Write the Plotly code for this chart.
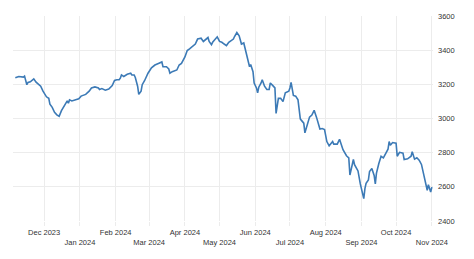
import plotly.graph_objects as go

dates = [
    "2023-11-06", "2023-11-09", "2023-11-13", "2023-11-14", "2023-11-16", "2023-11-17", "2023-11-19",
    "2023-11-21", "2023-11-22", "2023-11-24", "2023-11-28", "2023-11-30", "2023-12-03", "2023-12-05",
    "2023-12-06", "2023-12-08", "2023-12-10", "2023-12-12", "2023-12-14", "2023-12-16", "2023-12-19",
    "2023-12-21", "2023-12-22", "2023-12-23", "2023-12-25", "2023-12-28", "2023-12-31", "2024-01-02",
    "2024-01-06", "2024-01-09", "2024-01-11", "2024-01-14", "2024-01-17", "2024-01-18", "2024-01-20",
    "2024-01-23", "2024-01-26", "2024-01-29", "2024-01-31", "2024-02-02", "2024-02-04", "2024-02-05",
    "2024-02-06", "2024-02-08", "2024-02-11", "2024-02-14", "2024-02-15", "2024-02-17", "2024-02-18",
    "2024-02-20", "2024-02-21", "2024-02-23", "2024-02-24", "2024-02-26", "2024-02-29", "2024-03-03",
    "2024-03-06", "2024-03-09", "2024-03-12", "2024-03-13", "2024-03-16", "2024-03-18", "2024-03-19",
    "2024-03-21", "2024-03-23", "2024-03-25", "2024-03-27", "2024-03-29", "2024-04-01", "2024-04-03",
    "2024-04-05", "2024-04-08", "2024-04-10", "2024-04-12", "2024-04-15", "2024-04-17", "2024-04-19",
    "2024-04-21", "2024-04-22", "2024-04-24", "2024-04-25", "2024-04-27", "2024-04-29", "2024-05-01",
    "2024-05-03", "2024-05-05", "2024-05-07", "2024-05-09", "2024-05-11", "2024-05-13", "2024-05-14",
    "2024-05-16", "2024-05-18", "2024-05-20", "2024-05-22", "2024-05-23", "2024-05-25", "2024-05-27",
    "2024-05-28", "2024-05-30", "2024-05-31", "2024-06-02", "2024-06-03", "2024-06-04", "2024-06-06",
    "2024-06-07", "2024-06-09", "2024-06-11", "2024-06-13", "2024-06-14", "2024-06-16", "2024-06-18",
    "2024-06-19", "2024-06-21", "2024-06-23", "2024-06-25", "2024-06-27", "2024-06-30", "2024-07-01",
    "2024-07-02", "2024-07-04", "2024-07-06", "2024-07-08", "2024-07-10", "2024-07-11", "2024-07-13",
    "2024-07-14", "2024-07-17", "2024-07-18", "2024-07-20", "2024-07-22", "2024-07-24", "2024-07-27",
    "2024-07-29", "2024-07-31", "2024-08-02", "2024-08-04", "2024-08-07", "2024-08-08", "2024-08-11",
    "2024-08-13", "2024-08-16", "2024-08-19", "2024-08-21", "2024-08-22", "2024-08-25", "2024-08-26",
    "2024-08-28", "2024-08-29", "2024-08-31", "2024-09-02", "2024-09-03", "2024-09-04", "2024-09-05",
    "2024-09-07", "2024-09-08", "2024-09-10", "2024-09-12", "2024-09-13", "2024-09-14", "2024-09-16",
    "2024-09-18", "2024-09-20", "2024-09-22", "2024-09-24", "2024-09-25", "2024-09-26", "2024-09-28",
    "2024-09-30", "2024-10-01", "2024-10-02", "2024-10-04", "2024-10-07", "2024-10-08", "2024-10-11",
    "2024-10-14", "2024-10-15", "2024-10-17", "2024-10-19", "2024-10-21", "2024-10-23", "2024-10-25",
    "2024-10-27", "2024-10-28", "2024-10-29", "2024-10-31", "2024-11-01",
]

values = [
    3238, 3246, 3242, 3248, 3198, 3211, 3215,
    3227, 3232, 3213, 3189, 3160, 3127, 3118,
    3084, 3065, 3036, 3021, 3013, 3046, 3084,
    3103, 3090, 3109, 3103, 3109, 3116, 3131,
    3141, 3160, 3179, 3185, 3179, 3170, 3175,
    3166, 3173, 3193, 3223, 3227, 3227, 3236,
    3255, 3246, 3259, 3265, 3255, 3255, 3240,
    3189, 3141, 3160, 3198, 3221, 3265, 3297,
    3313, 3322, 3331, 3303, 3303, 3290, 3265,
    3274, 3278, 3284, 3313, 3322, 3360, 3398,
    3408, 3427, 3436, 3465, 3470, 3451, 3465,
    3474, 3451, 3432, 3446, 3465, 3478, 3451,
    3446, 3436, 3427, 3446, 3455, 3465, 3480,
    3503, 3484, 3436, 3442, 3417, 3360, 3303,
    3316, 3274, 3208, 3179, 3150, 3183, 3208,
    3227, 3189, 3170, 3170, 3208, 3194, 3179,
    3030, 3118, 3118, 3099, 3150, 3160, 3179,
    3211, 3135, 3131, 3109, 2998, 2989, 2973,
    2916, 2979, 3008, 3020, 3048, 3008, 2938,
    2941, 2935, 2865, 2840, 2865, 2850, 2850,
    2878, 2817, 2782, 2770, 2669, 2760, 2730,
    2705, 2693, 2617, 2570, 2531, 2590, 2620,
    2640, 2690, 2707, 2667, 2617, 2680, 2735,
    2779, 2770, 2800, 2820, 2865, 2843, 2859,
    2857, 2855, 2779, 2802, 2797, 2760, 2764,
    2779, 2805, 2762, 2770, 2756, 2731, 2665,
    2605, 2580, 2612, 2570, 2598,
]

tick_dates = ["2023-12-01", "2024-01-01", "2024-02-01", "2024-03-01", "2024-04-01", "2024-05-01",
              "2024-06-01", "2024-07-01", "2024-08-01", "2024-09-01", "2024-10-01", "2024-11-01"]
tick_labels = ["Dec 2023", "<br>Jan 2024", "Feb 2024", "<br>Mar 2024", "Apr 2024", "<br>May 2024",
               "Jun 2024", "<br>Jul 2024", "Aug 2024", "<br>Sep 2024", "Oct 2024", "<br>Nov 2024"]
y_ticks = [2400, 2600, 2800, 3000, 3200, 3400, 3600]

fig = go.Figure(go.Scatter(
    x=dates, y=values, mode="lines",
    line=dict(color="#3c7ab6", width=1.6),
    hoverinfo="skip",
))

font = dict(family="Liberation Sans, Arial, sans-serif", size=7.5, color="#333333")

fig.update_layout(
    width=474, height=259,
    margin=dict(l=13, r=41, t=13, b=37),
    paper_bgcolor="white", plot_bgcolor="white",
    showlegend=False,
    font=font,
)
fig.update_xaxes(
    range=["2023-11-04", "2024-11-02"],
    tickmode="array", tickvals=tick_dates, ticktext=tick_labels,
    showgrid=True, gridcolor="#ececec", gridwidth=1,
    ticks="outside", ticklen=4, tickcolor="#ececec",
    showline=False, zeroline=False, tickangle=0,
    tickfont=font,
)
fig.update_yaxes(
    range=[2400, 3600], side="right",
    tickmode="array", tickvals=y_ticks,
    showgrid=True, gridcolor="#ececec", gridwidth=1,
    ticks="", showline=False, zeroline=False,
    ticklabelstandoff=4,
    tickfont=font,
)

fig.write_html("out.html")
